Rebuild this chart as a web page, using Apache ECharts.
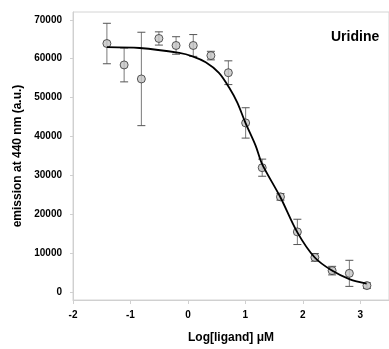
<!DOCTYPE html>
<html>
<head>
<meta charset="utf-8">
<script src="https://cdn.jsdelivr.net/npm/echarts@6/dist/echarts.min.js"></script>
<style>html,body{margin:0;padding:0;background:#fff}#c{width:389px;height:349px}</style>
</head>
<body>
<div id="c"></div>
<script>
// Measured points: log[ligand] (µM), mean emission, error (±)
var logConc = [-1.41, -1.11, -0.81, -0.505, -0.206, 0.093, 0.40, 0.704, 1.005, 1.293, 1.611, 1.905, 2.21, 2.51, 2.81, 3.116];
var emission = [63900, 58400, 54800, 65200, 63400, 63400, 60800, 56400, 43500, 32000, 24500, 15500, 8950, 5550, 4850, 1700];
var errors = [5200, 4350, 12000, 1700, 2250, 2800, 1100, 3050, 3900, 2200, 850, 3250, 1000, 1100, 3350, 700];

// Fitted curve
var curveX = [-1.41, -0.84, -0.15, 0.08, 0.31, 0.54, 0.72, 0.86, 1.00, 1.18, 1.29, 1.61, 1.90, 2.20, 2.50, 2.82, 3.11];
var curveY = [63000, 62750, 61480, 60610, 59080, 56370, 52530, 48700, 43580, 37600, 33000, 24400, 15500, 9050, 5630, 3320, 2230];

var yTicks = [0, 10000, 20000, 30000, 40000, 50000, 60000, 70000];
var xTicks = [-2, -1, 0, 1, 2, 3];
var titleText = 'Uridine';
var xName = 'Log[ligand] μM';
var yName = 'emission at 440 nm (a.u.)';

var pts = logConc.map(function (x, i) { return [x, emission[i]]; });
var bars = logConc.map(function (x, i) { return [x, emission[i] - errors[i], emission[i] + errors[i]]; });
var curve = curveX.map(function (x, i) { return [x, curveY[i]]; });

var font = 'Liberation Sans, Arial, sans-serif';
var chart = echarts.init(document.getElementById('c'), null, {renderer: 'canvas'});
chart.setOption({
  animation: false,
  backgroundColor: '#fff',
  title: {
    text: titleText, left: 326, top: 25,
    textStyle: {fontFamily: font, fontSize: 14, fontWeight: 'bold', color: '#000'}
  },
  grid: {
    left: 73, top: 12, bottom: 47.3, width: 318,
    show: true, borderColor: '#d4d4d4', borderWidth: 1, backgroundColor: 'transparent'
  },
  xAxis: {
    type: 'value', min: -2, max: 3.5, interval: 1,
    axisLine: {onZero: false, lineStyle: {color: '#d0d0d0', width: 1}},
    axisTick: {show: true, length: 4, customValues: xTicks, lineStyle: {color: '#d0d0d0'}},
    axisLabel: {customValues: xTicks, margin: 10, fontFamily: font, fontSize: 10, fontWeight: 'bold', color: '#000',
      formatter: function (v) { return String(v); }},
    splitLine: {show: false},
    name: xName, nameLocation: 'middle', nameGap: 32,
    nameTextStyle: {fontFamily: font, fontSize: 12, fontWeight: 'bold', color: '#000'}
  },
  yAxis: {
    type: 'value', min: -2000, max: 72000,
    axisLine: {show: true, onZero: false, lineStyle: {color: '#d0d0d0', width: 1}},
    axisTick: {show: true, length: 3, customValues: yTicks, lineStyle: {color: '#d0d0d0'}},
    axisLabel: {customValues: yTicks, margin: 11, fontFamily: font, fontSize: 10, fontWeight: 'bold', color: '#000',
      formatter: function (v) { return String(v); }},
    splitLine: {show: false},
    name: yName, nameLocation: 'middle', nameGap: 45, nameRotate: 90,
    nameTextStyle: {fontFamily: font, fontSize: 12, fontWeight: 'bold', color: '#000'}
  },
  series: [
    {
      type: 'custom', z: 1, data: bars,
      renderItem: function (params, api) {
        var x = api.value(0);
        var lo = api.coord([x, api.value(1)]);
        var hi = api.coord([x, api.value(2)]);
        var hw = 4;
        var st = {stroke: '#555', lineWidth: 1};
        return {
          type: 'group',
          children: [
            {type: 'line', shape: {x1: lo[0], y1: lo[1], x2: hi[0], y2: hi[1]}, style: {stroke: '#7a7a7a', lineWidth: 1}},
            {type: 'line', shape: {x1: hi[0] - hw, y1: hi[1], x2: hi[0] + hw, y2: hi[1]}, style: st},
            {type: 'line', shape: {x1: lo[0] - hw, y1: lo[1], x2: lo[0] + hw, y2: lo[1]}, style: st}
          ]
        };
      }
    },
    {
      type: 'scatter', z: 2, data: pts, symbol: 'circle', symbolSize: 8,
      itemStyle: {color: '#c4c4c4', borderColor: '#333', borderWidth: 1}
    },
    {
      type: 'line', z: 3, data: curve, smooth: 0.3, showSymbol: false,
      lineStyle: {color: '#000', width: 1.8}
    }
  ]
});
</script>
</body>
</html>
